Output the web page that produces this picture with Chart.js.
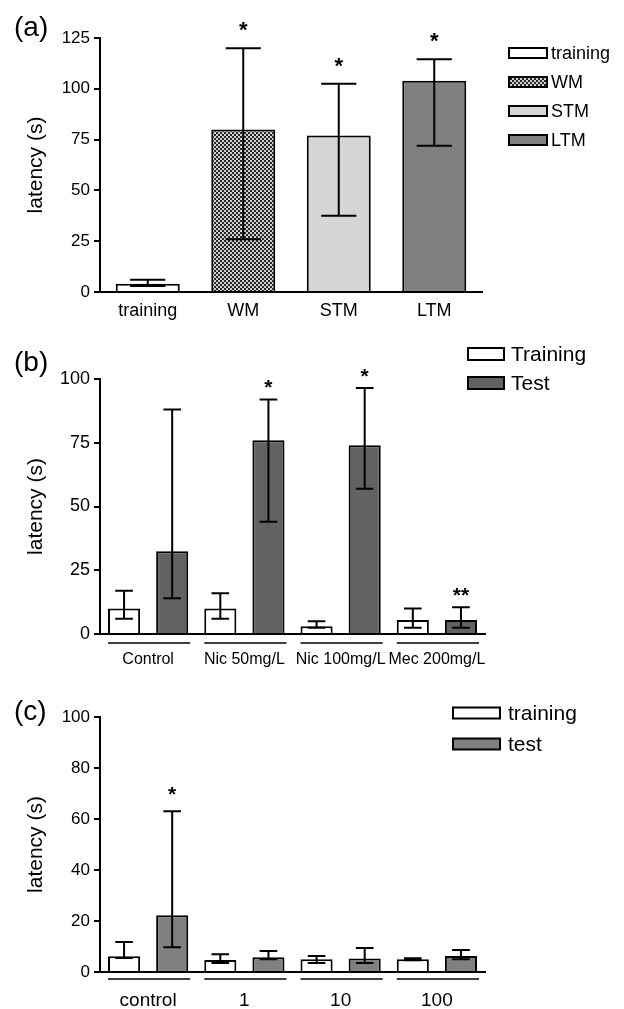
<!DOCTYPE html>
<html>
<head>
<meta charset="utf-8">
<script src="https://cdn.jsdelivr.net/npm/chart.js@4.4.1/dist/chart.umd.min.js"></script>
<style>
  body { margin: 0; background: #fff; }
  canvas { position: absolute; left: 0; }
</style>
</head>
<body>
<canvas id="chartA" width="624" height="330" style="top:0px"></canvas>
<canvas id="chartB" width="624" height="340" style="top:330px"></canvas>
<canvas id="chartC" width="624" height="339" style="top:670px"></canvas>
<script>
// panel (a)
const catsA = ["training", "WM", "STM", "LTM"];
const meanA = [4, 80, 77, 104];
const lowA = [3, 26, 37.5, 72];
const highA = [6, 120, 102.5, 114.5];
const starsA = ["", "*", "*", "*"];
const yTicksA = [0, 25, 50, 75, 100, 125];

// panel (b)
const catsB = ["Control", "Nic 50mg/L", "Nic 100mg/L", "Mec 200mg/L"];
const seriesB = ["Training", "Test"];
const trainB = [10, 10, 3, 5.5];
const trainLowB = [6, 6, 2.5, 2.5];
const trainHighB = [17, 16, 5, 10];
const testB = [32.5, 76, 74, 5.5];
const testLowB = [14, 44, 57, 2.5];
const testHighB = [88, 92, 96.5, 10.5];
const starsTestB = ["", "*", "*", "**"];
const yTicksB = [0, 25, 50, 75, 100];

// panel (c)
const catsC = ["control", "1", "10", "100"];
const seriesC = ["training", "test"];
const trainC = [6.2, 4.7, 5, 5];
const trainLowC = [5.5, 3.5, 3.5, 4.6];
const trainHighC = [11.8, 7, 6.3, 5.4];
const testC = [22.3, 5.8, 5.3, 6.3];
const testLowC = [9.7, 5, 3.5, 5];
const testHighC = [63, 8.2, 9.4, 8.6];
const starsTestC = ["*", "", "", ""];
const yTicksC = [0, 20, 40, 60, 80, 100];

const FONT = '"Liberation Sans", Arial, sans-serif';
Chart.defaults.font.family = FONT;
Chart.defaults.color = "#000";

// checkered fill for WM
function checkPattern() {
  const c = document.createElement("canvas");
  c.width = 4;
  c.height = 4;
  const g = c.getContext("2d");
  g.fillStyle = "#d0d0d0";
  g.fillRect(0, 0, 4, 4);
  g.fillStyle = "#262626";
  g.fillRect(0, 0, 2, 2);
  g.fillRect(2, 2, 2, 2);
  return g.createPattern(c, "repeat");
}

//error bars + stars
const errorBars = {
  id: "errorBars",
  afterDatasetsDraw(chart, args, o) {
    const ctx = chart.ctx;
    const y = chart.scales.y;
    chart.data.datasets.forEach((ds, di) => {
      const meta = chart.getDatasetMeta(di);
      meta.data.forEach((bar, i) => {
        const lo = y.getPixelForValue(ds.errLow[i]);
        const hi = y.getPixelForValue(ds.errHigh[i]);
        const cap = bar.width * 0.55;
        ctx.save();
        ctx.strokeStyle = "#000";
        ctx.lineWidth = 2;
        ctx.beginPath();
        ctx.moveTo(bar.x, lo);
        ctx.lineTo(bar.x, hi);
        ctx.moveTo(bar.x - cap / 2, lo);
        ctx.lineTo(bar.x + cap / 2, lo);
        ctx.moveTo(bar.x - cap / 2, hi);
        ctx.lineTo(bar.x + cap / 2, hi);
        ctx.stroke();
        if (ds.stars && ds.stars[i]) {
          ctx.fillStyle = "#000";
          ctx.font = "bold " + (o.starSize || 20) + "px " + FONT;
          ctx.textAlign = "center";
          ctx.textBaseline = "alphabetic";
          ctx.fillText(ds.stars[i], bar.x, hi - (o.starGap || 4));
        }
        ctx.restore();
      });
    });
  },
};

// lines under each group
const groupLines = {
  id: "groupLines",
  afterDraw(chart, args, o) {
    if (!o.offset) return;
    const ctx = chart.ctx;
    const yPos = chart.chartArea.bottom + o.offset;
    chart.data.labels.forEach((lab, i) => {
      let left = Infinity;
      let right = -Infinity;
      chart.data.datasets.forEach((ds, di) => {
        const bar = chart.getDatasetMeta(di).data[i];
        left = Math.min(left, bar.x - bar.width / 2);
        right = Math.max(right, bar.x + bar.width / 2);
      });
      ctx.save();
      ctx.strokeStyle = "#000";
      ctx.lineWidth = 1.5;
      ctx.beginPath();
      ctx.moveTo(left, yPos);
      ctx.lineTo(right + 2, yPos);
      ctx.stroke();
      ctx.restore();
    });
  },
};

// legend with outlined boxes
const boxLegend = {
  id: "boxLegend",
  afterDraw(chart, args, o) {
    const ctx = chart.ctx;
    const dsets = chart.data.datasets;
    let labels, fills;
    if (o.byCategory) {
      labels = chart.data.labels;
      fills = dsets[0].backgroundColor;
    } else {
      labels = dsets.map((d) => d.label);
      fills = dsets.map((d) => d.backgroundColor);
    }
    ctx.save();
    ctx.font = o.size + "px " + FONT;
    ctx.textBaseline = "middle";
    ctx.textAlign = "left";
    labels.forEach((lab, i) => {
      const yy = o.y + i * o.dy;
      ctx.fillStyle = fills[i];
      ctx.fillRect(o.x, yy - o.h / 2, o.w, o.h);
      ctx.strokeStyle = "#000";
      ctx.lineWidth = 2;
      ctx.strokeRect(o.x, yy - o.h / 2, o.w, o.h);
      ctx.fillStyle = "#000";
      ctx.fillText(lab, o.x + o.w + o.gap, yy + 1);
    });
    ctx.restore();
  },
};

// (a) (b) (c)
const panelTag = {
  id: "panelTag",
  afterDraw(chart, args, o) {
    const ctx = chart.ctx;
    ctx.save();
    ctx.font = "28px " + FONT;
    ctx.fillStyle = "#000";
    ctx.textBaseline = "alphabetic";
    ctx.fillText(o.text, o.x, o.y);
    ctx.restore();
  },
};

function buildScales(yTicks, xHeight, xPad, xSize, ySize) {
  return {
    x: {
      offset: true,
      grid: { display: false, drawTicks: false },
      border: { display: true, color: "#000", width: 2 },
      ticks: { padding: xPad, font: { size: xSize }, color: "#000", maxRotation: 0, autoSkip: false },
      afterFit: (s) => {
        s.height = xHeight;
      },
    },
    y: {
      min: yTicks[0],
      max: yTicks[yTicks.length - 1],
      grid: { drawOnChartArea: false, drawTicks: true, tickLength: 6, color: "#000", lineWidth: 2 },
      border: { display: true, color: "#000", width: 2 },
      ticks: { padding: 4, font: { size: ySize }, color: "#000" },
      afterBuildTicks: (s) => {
        s.ticks = yTicks.map((v) => ({ value: v }));
      },
      afterFit: (s) => {
        s.width = 100;
      },
      title: {
        display: true,
        text: "latency (s)",
        font: { size: 21 },
        color: "#000",
        padding: { top: 24, bottom: 0 },
      },
    },
  };
}

const plugins = [errorBars, groupLines, boxLegend, panelTag];

var chartA = new Chart(document.getElementById("chartA"), {
  type: "bar",
  data: {
    labels: catsA,
    datasets: [
      {
        label: "latency",
        data: meanA,
        errLow: lowA,
        errHigh: highA,
        stars: starsA,
        backgroundColor: ["#ffffff", checkPattern(), "#d6d6d6", "#808080"],
        borderColor: "#000",
        borderWidth: 2,
        barPercentage: 0.67,
        categoryPercentage: 1,
      },
    ],
  },
  options: {
    responsive: false,
    animation: false,
    layout: { padding: { top: 38, right: 142, left: 0, bottom: 0 } },
    scales: buildScales(yTicksA, 38, 8, 18, 17),
    plugins: {
      legend: { display: false },
      tooltip: { enabled: false },
      errorBars: { starSize: 22, starGap: 11 },
      boxLegend: { byCategory: true, x: 509, y: 53, dy: 29, w: 38, h: 10, gap: 4, size: 18 },
      panelTag: { text: "(a)", x: 14, y: 36 },
    },
  },
  plugins: plugins,
});

var chartB = new Chart(document.getElementById("chartB"), {
  type: "bar",
  data: {
    labels: catsB,
    datasets: [
      {
        label: seriesB[0],
        data: trainB,
        errLow: trainLowB,
        errHigh: trainHighB,
        backgroundColor: "#ffffff",
        borderColor: "#000",
        borderWidth: 2,
        barPercentage: 0.667,
        categoryPercentage: 1,
      },
      {
        label: seriesB[1],
        data: testB,
        errLow: testLowB,
        errHigh: testHighB,
        stars: starsTestB,
        backgroundColor: "#626262",
        borderColor: "#000",
        borderWidth: 2,
        barPercentage: 0.667,
        categoryPercentage: 1,
      },
    ],
  },
  options: {
    responsive: false,
    animation: false,
    layout: { padding: { top: 49, right: 139, left: 0, bottom: 0 } },
    scales: buildScales(yTicksB, 36, 16, 16, 18),
    plugins: {
      legend: { display: false },
      tooltip: { enabled: false },
      errorBars: { starSize: 21, starGap: 5 },
      groupLines: { offset: 9 },
      boxLegend: { byCategory: false, x: 468, y: 24, dy: 29, w: 36, h: 12, gap: 7, size: 21 },
      panelTag: { text: "(b)", x: 14, y: 41 },
    },
  },
  plugins: plugins,
});

var chartC = new Chart(document.getElementById("chartC"), {
  type: "bar",
  data: {
    labels: catsC,
    datasets: [
      {
        label: seriesC[0],
        data: trainC,
        errLow: trainLowC,
        errHigh: trainHighC,
        backgroundColor: "#ffffff",
        borderColor: "#000",
        borderWidth: 2,
        barPercentage: 0.667,
        categoryPercentage: 1,
      },
      {
        label: seriesC[1],
        data: testC,
        errLow: testLowC,
        errHigh: testHighC,
        stars: starsTestC,
        backgroundColor: "#808080",
        borderColor: "#000",
        borderWidth: 2,
        barPercentage: 0.667,
        categoryPercentage: 1,
      },
    ],
  },
  options: {
    responsive: false,
    animation: false,
    layout: { padding: { top: 47, right: 139, left: 0, bottom: 0 } },
    scales: buildScales(yTicksC, 37, 17, 19, 17),
    plugins: {
      legend: { display: false },
      tooltip: { enabled: false },
      errorBars: { starSize: 21, starGap: 10 },
      groupLines: { offset: 7 },
      boxLegend: { byCategory: false, x: 453, y: 43, dy: 31, w: 47, h: 11, gap: 8, size: 21 },
      panelTag: { text: "(c)", x: 14, y: 50 },
    },
  },
  plugins: plugins,
});
</script>
</body>
</html>
